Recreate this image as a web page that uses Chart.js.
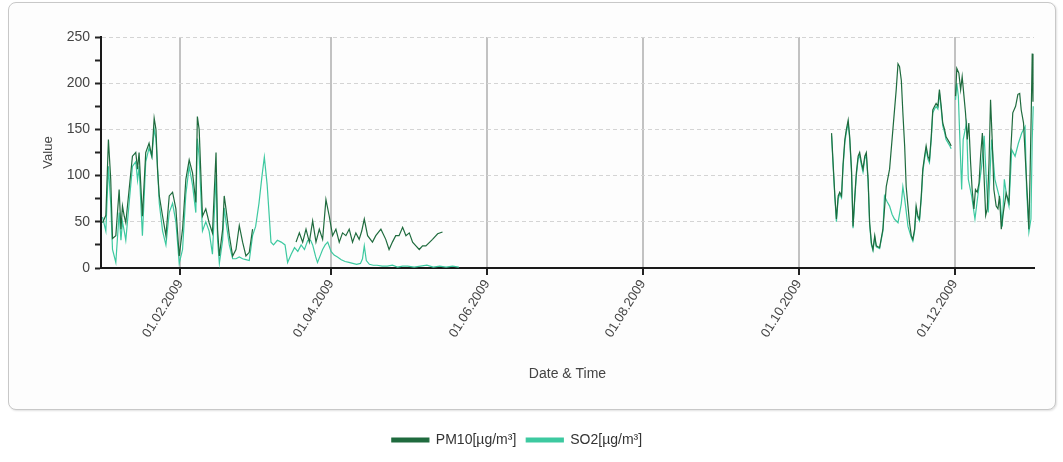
<!DOCTYPE html>
<html>
<head>
<meta charset="utf-8">
<script src="https://cdn.jsdelivr.net/npm/chart.js@4.4.1/dist/chart.umd.min.js"></script>
<style>
  html, body { margin: 0; padding: 0; background: #fff; }
  #frame {
    position: absolute; left: 8px; top: 2px; width: 1046px; height: 406px;
    border: 1px solid #c8c8c8; border-radius: 8px;
    box-shadow: 1px 1px 2px rgba(0,0,0,0.12); background: #fdfdfd;
  }
  #chart { position: absolute; left: 0; top: 0; }
</style>
</head>
<body>
<div id="frame"></div>
<canvas id="chart" width="1063" height="462"></canvas>
<script>
// x values are days since 01.01.2009, null value = break in the line
const tickDays = [31, 90, 151, 212, 273, 334];
const tickLabels = ['01.02.2009', '01.04.2009', '01.06.2009', '01.08.2009', '01.10.2009', '01.12.2009'];

const pm10Days = [
  0.6,1.9,2.9,3.8,4.5,5.8,7.1,7.8,8.4,9.1, 9.7,11.0,12.3,13.6,14.3,14.9,16.2,17.5,18.8,19.9,
  20.8,21.5,22.1,22.8,24.1,25.4,26.7,28.0,29.3,30.6, 31.9,33.2,34.5,35.8,37.1,37.7,38.4,39.7,41.0,42.3,
  43.6,45.0,45.6,46.3,47.6,48.2,48.9,50.2,51.5,52.8, 54.1,55.4,56.7,58.0,59.3,
  68,
  76.3,77.6,78.9,80.2,81.5,82.8,84.1,85.4,86.7, 88.0,89.3,90.6,91.9,93.2,94.5,95.8,97.1,98.4,99.7,
  101.0,102.0,103.0,104.3,106.2,107.5,109.5,111.4,112.7,114.0, 115.3,116.6,118.0,119.3,120.6,121.9,123.2,124.5,125.8,127.1,
  129.7,131.7,133.6,
  200,
  285.8,286.4,287.1,287.7,288.4,289.0,289.7,290.3,291.0,291.6, 292.3,292.9,293.6,294.2,294.9,295.5,296.2,296.8,297.5,298.1,
  298.8,299.4,300.1,300.7,301.4,302.0,302.7,303.3,304.6,305.9, 307.2,308.5,309.8,311.1,311.8,312.4,313.1,313.7,314.4,315.0,
  315.7,316.3,317.0,317.6,318.3,318.9,319.6,320.2,320.9,321.5, 322.2,322.8,323.5,324.1,324.8,325.4,326.1,326.7,327.4,328.0,
  328.7,329.3,330.0,330.6,331.9,332.6,
  333.5,
  334.3,334.8,335.6,336.3, 336.9,337.6,338.2,338.9,339.5,340.2,340.8,341.5,342.1,342.8,
  343.5,344.1,344.8,345.4,346.1,346.7,347.4,348.0,348.7,349.3, 350.2,350.9,351.5,352.2,352.8,354.1,355.2,355.8,356.7,357.8,
  358.7,359.4,360.0,360.9,361.7,362.4,363.0,363.5,363.9,364.3,364.6
];
const pm10Values = [
  49,57,139,96,32,35,85,42,67,56, 49,85,121,125,107,125,56,125,135,121,
  162,150,107,78,56,35,78,82,64,13, 42,96,117,103,71,164,150,56,64,49,
  38,125,42,13,42,78,64,35,13,20, 46,28,13,17,42,
  null,
  28,38,28,42,28,51,28,42,31, 74,56,35,42,28,38,35,42,28,38,
  31,40,53,35,28,35,42,31,20,28, 35,35,44,35,38,28,24,20,24,24,
  31,37,39,
  null,
  146,114,78,53,78,82,78,112,139,150, 160,142,107,45,78,103,121,125,114,107,
  121,125,96,49,27,20,35,24,22,42, 88,107,150,193,221,218,203,168,132,88,
  67,49,35,31,42,67,56,53,78,107, 121,132,121,117,142,171,175,178,175,193,
  175,157,150,142,136,132,
  null,
  186,216,211,193, 207,186,168,139,157,114,85,64,85,82,
  92,121,146,103,57,64,114,182,135,85, 67,64,78,42,56,81,71,121,168,175,
  188,189,171,157,114,78,42,107,164,232,180
];

const so2Days = [
  0.6,1.9,2.9,3.8,4.5,5.8,7.1,7.8,8.4,9.1, 9.7,11.0,12.3,13.6,14.3,14.9,16.2,17.5,18.8,19.9,
  20.8,21.5,22.1,22.8,24.1,25.4,26.7,28.0,29.3,30.6, 31.9,33.2,34.5,35.8,37.1,37.7,38.4,39.7,41.0,42.3,
  43.6,45.0,45.6,46.3,47.6,48.2,48.9,50.2,51.5,52.8, 54.1,55.4,56.7,58.0,59.3,
  60.5,61.8,63.0,63.9,65.0,66.5,67.5,69.0,70.5,72.0, 73.0,74.4,75.7,77.0,78.3,79.6,80.9,82.0,82.8,84.0,
  84.7,86.0,86.7,87.7,88.7,90.0,91.2,92.5,94.0,95.5, 97.0,98.5,100.0,101.5,102.3,103.0,103.8,105.0,106.5,108.0,
  110.0,112.0,114.0,116.0,118.0,120.0,122.5,125.0,127.5,130.0, 132.5,135.0,137.5,140.0,
  200,
  285.8,286.4,287.1,287.7,288.4,289.0,289.7,290.3,291.0,291.6, 292.3,292.9,293.6,294.2,294.9,295.5,296.2,296.8,297.5,298.1,
  298.8,299.4,300.1,300.7,301.4,302.0,302.7,303.3,304.6,305.9, 306.5,307.5,308.5,309.5,310.4,311.8,313.1,313.7,314.4,315.7,
  317.0,317.6,318.3,318.9,319.6,320.2,320.9,321.5,322.2,322.8, 323.5,324.1,324.8,325.4,326.1,326.7,327.4,328.0,328.7,329.3,
  330.0,330.6,331.9,332.6,
  333.5,
  334.3,334.8,335.4,336.7,337.3,338.6,339.3,340.6,341.9,343.2, 344.5,345.5,346.4,347.1,348.4,349.7,351.7,352.6,353.4,354.3,
  355.2,356.3,357.6,358.9,360.2,361.5,362.1,363.0,363.8,364.3,364.7
];
const so2Values = [
  55,40,110,70,20,6,60,30,50,40, 30,70,110,115,95,110,35,115,130,120,
  150,140,110,70,40,25,60,70,50,5, 20,80,110,90,60,140,120,40,50,40,
  15,100,30,5,30,65,50,25,10,10, 12,10,9,8,35,
  45,70,100,120,90,28,25,30,28,25, 6,15,22,18,25,20,30,30,25,12,
  6,15,20,25,28,18,14,12,9,7, 6,5,4,5,10,24,8,4,3,3,
  2,2,3,1,2,2,1,2,3,1, 2,1,2,1,
  null,
  143,111,76,50,75,80,76,109,136,147, 157,139,104,43,75,100,118,122,111,104,
  118,122,93,47,25,19,33,23,21,40, 78,72,67,58,53,49,70,88,75,45,
  33,29,40,64,54,51,75,104,118,129, 118,114,139,168,172,175,172,190,172,154,
  147,139,133,129,
  null,
  182,200,186,85,139,157,96,78,53,82, 110,143,92,60,139,96,74,45,96,78,
  67,128,121,135,146,153,85,39,53,139,175
];

const FONT = 'Liberation Sans, Arial, sans-serif';
const toPoints = (days, vals) => days.map((d, i) => ({ x: d, y: vals[i] }));

new Chart(document.getElementById('chart'), {
  type: 'line',
  data: {
    datasets: [
      { label: 'PM10[µg/m³]', data: toPoints(pm10Days, pm10Values),
        borderColor: '#1f6b3e', backgroundColor: '#1f6b3e', borderWidth: 1.2 },
      { label: 'SO2[µg/m³]', data: toPoints(so2Days, so2Values),
        borderColor: '#3dc9a0', backgroundColor: '#3dc9a0', borderWidth: 1.2 }
    ]
  },
  options: {
    responsive: false,
    animation: false,
    spanGaps: false,
    elements: { point: { radius: 0 }, line: { tension: 0 } },
    layout: { padding: { top: 37, right: 29, left: 0, bottom: 5 } },
    scales: {
      x: {
        type: 'linear', min: 0, max: 365,
        afterBuildTicks: s => { s.ticks = tickDays.map(v => ({ value: v })); },
        afterFit: s => { s.height = 155; },
        ticks: {
          autoSkip: false, minRotation: 58, maxRotation: 58, padding: 2,
          color: '#444', font: { family: FONT, size: 13 },
          callback: v => tickLabels[tickDays.indexOf(v)]
        },
        grid: { color: '#c2c2c2', lineWidth: 2, tickLength: 7, tickColor: '#222', tickWidth: 2 },
        border: { color: '#1a1a1a', width: 2 },
        title: { display: true, text: 'Date & Time', color: '#444',
                 font: { family: FONT, size: 14 }, padding: { top: 0, bottom: 40 } }
      },
      y: {
        min: 0, max: 250,
        afterBuildTicks: s => {
          const t = [];
          for (let v = 0; v <= 250; v += 25) t.push({ value: v });
          s.ticks = t;
        },
        afterFit: s => { s.width = 101; },
        ticks: {
          padding: 5, color: '#444', font: { family: FONT, size: 14 },
          callback: v => (v % 50 === 0 ? v : '')
        },
        grid: {
          color: c => (c.tick && c.tick.value % 50 === 0 && c.tick.value > 0 ? '#d4d4d4' : 'rgba(0,0,0,0)'),
          lineWidth: 1, tickLength: 6, tickColor: '#222', tickWidth: 2
        },
        border: { color: '#1a1a1a', width: 2, dash: [4, 3] },
        title: { display: true, text: 'Value', color: '#444',
                 font: { family: FONT, size: 13 }, padding: { top: 41, bottom: 0 } }
      }
    },
    plugins: {
      legend: {
        position: 'bottom',
        labels: { boxWidth: 37, boxHeight: 4, padding: 10, color: '#333', font: { family: FONT, size: 14 } }
      },
      tooltip: { enabled: false }
    }
  }
});
</script>
</body>
</html>
